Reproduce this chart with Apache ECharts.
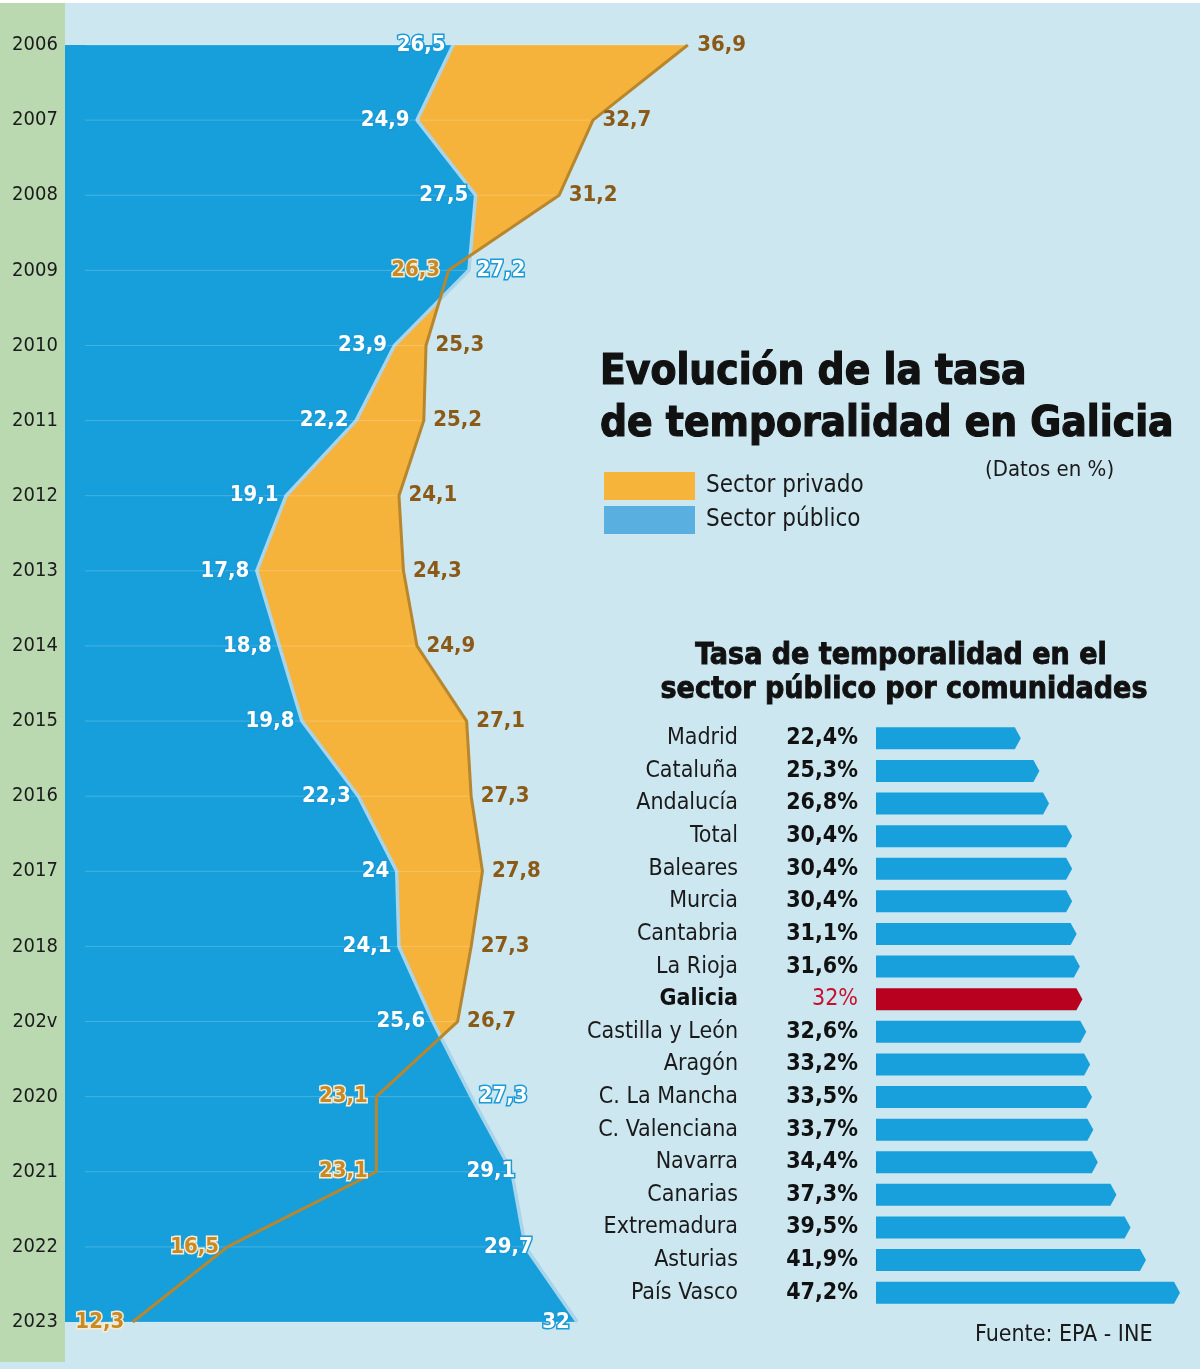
<!DOCTYPE html>
<html><head><meta charset="utf-8">
<script src="https://cdn.jsdelivr.net/npm/echarts@6/dist/echarts.min.js"></script>
<style>html,body{margin:0;padding:0;background:#cde7f1}#c{width:1200px;height:1369px}</style>
</head><body><div id="c"></div>
<script>
// ---- data ----
const years = ['2006','2007','2008','2009','2010','2011','2012','2013','2014','2015','2016','2017','2018','202v','2020','2021','2022','2023'];
const publico = [26.5,24.9,27.5,27.2,23.9,22.2,19.1,17.8,18.8,19.8,22.3,24,24.1,25.6,27.3,29.1,29.7,32];
const privado = [36.9,32.7,31.2,26.3,25.3,25.2,24.1,24.3,24.9,27.1,27.3,27.8,27.3,26.7,23.1,23.1,16.5,12.3];
const regiones = ['Madrid','Cataluña','Andalucía','Total','Baleares','Murcia','Cantabria','La Rioja','Galicia','Castilla y León','Aragón','C. La Mancha','C. Valenciana','Navarra','Canarias','Extremadura','Asturias','País Vasco'];
const regionValores = [22.4,25.3,26.8,30.4,30.4,30.4,31.1,31.6,32,32.6,33.2,33.5,33.7,34.4,37.3,39.5,41.9,47.2];

// ---- label layout ----
const pubSide  = ['left','left','left','right','left','left','left','left','left','left','left','left','left','left','right','left','left','left'];
const privSide = ['right','right','right','left','right','right','right','right','right','right','right','right','right','right','left','left','left','left'];

const F = "'DejaVu Sans Condensed','Liberation Sans Narrow','Roboto',sans-serif";
const fmt = v => String(v).replace('.', ',');
const X_MIN = 9.3, X_MAX = 59.6;

const chart = echarts.init(document.getElementById('c'), null, {renderer:'canvas'});

const pubLabelData = publico.map((v,i) => ({
  value:[v,i],
  label:{
    position: pubSide[i], distance: (i===15? -4 : i===16 ? -8 : 7),
    formatter: fmt(v),
    color:'#ffffff', textBorderColor:'#1a9ad6', textBorderWidth:3
  }
}));
const privLabelData = privado.map((v,i) => {
  const onBlue = privSide[i]==='left';
  return {
    value:[v,i],
    label: onBlue ? {
      position:'left', distance:8, formatter: fmt(v),
      color:'#c98a24', textBorderColor:'#f6ecd6', textBorderWidth:3
    } : {
      position:'right', distance:9, formatter: fmt(v),
      color:'#8a5a16'
    }
  };
});

const txt = (x, y, text, font, align, extra) => ({
  type:'text', x, y,
  style:Object.assign({text, font, fill:'#111', align, textAlign:align, verticalAlign:'middle', textVerticalAlign:'middle'}, extra||{})
});

const option = {
  animation:false,
  backgroundColor:'transparent',
  legend:{
    left:599, top:467, orient:'vertical', icon:'rect', itemWidth:91, itemHeight:28, itemGap:6,
    selectedMode:false,
    textStyle:{fontSize:24, color:'#1a1a1a', fontFamily:F, padding:[0,0,0,6]},
    data:[
      {name:'Sector privado', itemStyle:{color:'#f7b43b', borderWidth:0}},
      {name:'Sector público', itemStyle:{color:'#5aafe1', borderWidth:0}}
    ]
  },
  grid:[
    {left:65, top:45, width:1135, height:1277},
    {left:877, top:722, width:303, height:587}
  ],
  xAxis:[
    {type:'value', gridIndex:0, min:X_MIN, max:X_MAX, show:false},
    {type:'value', gridIndex:1, min:0, max:47.2, show:false}
  ],
  yAxis:[
    {type:'category', gridIndex:0, data:years, inverse:true, boundaryGap:false, z:5,
     axisLine:{show:false}, axisTick:{show:false}, splitLine:{show:false},
     axisLabel:{margin:30, align:'center', fontSize:20, color:'#1b1b1b', fontFamily:F}},
    {type:'category', gridIndex:1, data:regiones, inverse:true, z:5,
     axisLine:{show:false}, axisTick:{show:false}, splitLine:{show:false},
     axisLabel:{
       margin:19,
       formatter:(name, i) => name==='Galicia'
         ? `{gn|${name}}{gv|${fmt(regionValores[i])}%}`
         : `{n|${name}}{v|${fmt(regionValores[i])}%}`,
       rich:{
         n:{fontSize:23, color:'#1a1a1a', fontFamily:F},
         gn:{fontSize:23, color:'#111', fontWeight:'bold', fontFamily:F},
         v:{width:120, align:'right', fontSize:23, fontWeight:'bold', color:'#111', fontFamily:F},
         gv:{width:120, align:'right', fontSize:23, color:'#c8102e', fontFamily:F}
       }
     }}
  ],
  graphic:[
    {type:'rect', z:-10, shape:{x:0, y:0, width:1200, height:3}, style:{fill:'#ffffff'}},
    {type:'rect', z:-10, shape:{x:0, y:3, width:65, height:1359}, style:{fill:'#bad9b1'}},
    txt(600, 373, 'Evolución de la tasa', `bold 42px ${F}`, 'left', {stroke:'#111', lineWidth:1.2}),
    txt(600, 425, 'de temporalidad en Galicia', `bold 42px ${F}`, 'left', {stroke:'#111', lineWidth:1.2}),
    txt(985, 470, '(Datos en %)', `22px ${F}`, 'left', {fill:'#1a1a1a'}),
    txt(901, 656, 'Tasa de temporalidad en el', `bold 30px ${F}`, 'center', {stroke:'#111', lineWidth:0.9}),
    txt(904, 690, 'sector público por comunidades', `bold 30px ${F}`, 'center', {stroke:'#111', lineWidth:0.9}),
    txt(975, 1335, 'Fuente: EPA - INE', `23px ${F}`, 'left', {fill:'#1a1a1a'})
  ],
  series:[
    {name:'Sector privado', type:'line', xAxisIndex:0, yAxisIndex:0, data:privado,
     symbol:'none', silent:true, lineStyle:{width:0, color:'#f6b33c'},
     itemStyle:{color:'#f6b33c'},
     areaStyle:{color:'#f6b33c', opacity:1, origin:'start'}, z:2},
    {name:'Sector público', type:'line', xAxisIndex:0, yAxisIndex:0, data:publico,
     symbol:'none', silent:true, lineStyle:{width:3.5, color:'#a8d4ec'},
     itemStyle:{color:'#179fdb'},
     areaStyle:{color:'#179fdb', opacity:1, origin:'start'}, z:3},
    {name:'rejilla', type:'custom', xAxisIndex:0, yAxisIndex:0, silent:true, z:4,
     data: years.map((y,i)=>[Math.max(publico[i], privado[i]), i]),
     encode:{x:0, y:1},
     renderItem:(params, api) => {
       const idx = api.value(1);
       const p = api.coord([api.value(0), idx]);
       const s = api.coord([X_MIN, idx]);
       return {type:'line', shape:{x1:s[0]+20, y1:p[1], x2:p[0]-2, y2:p[1]},
               style:{stroke:'rgba(255,255,255,0.2)', lineWidth:1}};
     }},
    {name:'privado-linea', type:'line', xAxisIndex:0, yAxisIndex:0, data:privado,
     symbol:'none', silent:true, lineStyle:{width:3, color:'#b8862c'}, z:5},
    {name:'etiquetas-publico', type:'scatter', xAxisIndex:0, yAxisIndex:0, silent:true, z:10,
     symbolSize:1, itemStyle:{color:'rgba(0,0,0,0)', opacity:1},
     label:{show:true, fontSize:22, fontWeight:'bold', fontFamily:F, opacity:1},
     data:pubLabelData},
    {name:'etiquetas-privado', type:'scatter', xAxisIndex:0, yAxisIndex:0, silent:true, z:10,
     symbolSize:1, itemStyle:{color:'rgba(0,0,0,0)', opacity:1},
     label:{show:true, fontSize:22, fontWeight:'bold', fontFamily:F, opacity:1},
     data:privLabelData},
    {name:'comunidades', type:'custom', xAxisIndex:1, yAxisIndex:1, silent:true, z:3,
     data: regionValores.map((v,i)=>[v,i]),
     encode:{x:0, y:1},
     renderItem:(params, api) => {
       const v = api.value(0), i = api.value(1);
       const s = api.coord([0, i]);
       const e = api.coord([v, i]);
       const h = 22, tip = 6;
       const y = s[1];
       const col = regiones[i]==='Galicia' ? '#b8001f' : '#18a0dc';
       return {type:'polygon', shape:{points:[
         [s[0]-1, y-h/2], [e[0]-tip, y-h/2], [e[0], y], [e[0]-tip, y+h/2], [s[0]-1, y+h/2]
       ]}, style:{fill:col}};
     }}
  ]
};
chart.setOption(option);
</script>
</body></html>
